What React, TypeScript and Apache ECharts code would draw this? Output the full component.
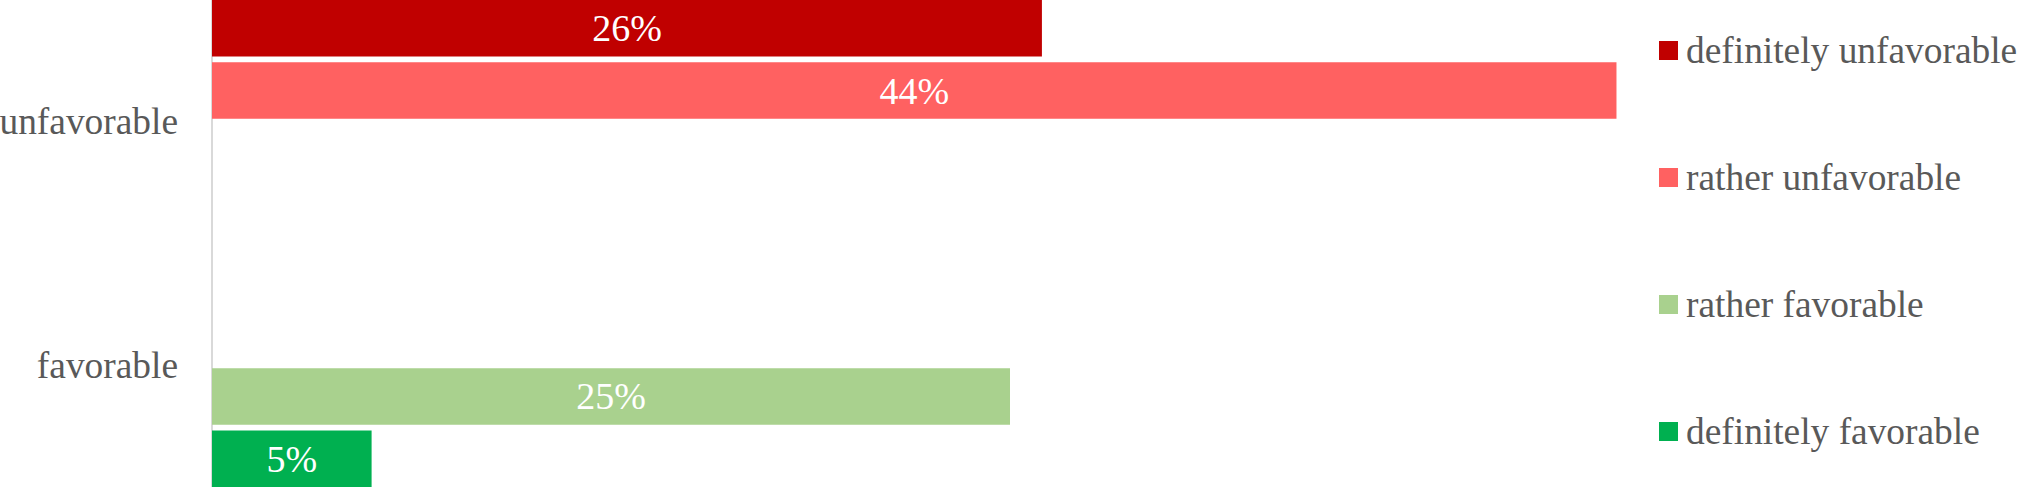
import React, { useEffect, useRef } from "react";
import * as echarts from "echarts";

const categories = ["unfavorable", "favorable"];
const seriesNames = [
  "definitely unfavorable",
  "rather unfavorable",
  "rather favorable",
  "definitely favorable",
];
const definitelyUnfavorable = [26, null];
const ratherUnfavorable = [44, null];
const ratherFavorable = [null, 25];
const definitelyFavorable = [null, 5];
const seriesValues = [
  definitelyUnfavorable,
  ratherUnfavorable,
  ratherFavorable,
  definitelyFavorable,
];
const seriesColors = ["#C00000", "#FF6161", "#A9D18E", "#00B050"];

const FONT = "'Liberation Serif', 'Times New Roman', serif";

export default function App() {
  const ref = useRef<HTMLDivElement>(null);

  useEffect(() => {
    document.body.style.margin = "0";
    if (!ref.current) return;
    const chart = echarts.init(ref.current, null, { renderer: "svg" });
    chart.setOption({
      animation: false,
      backgroundColor: "#ffffff",
      grid: {
        left: 212,
        top: 0,
        width: 1436.4,
        height: 487,
        containLabel: false,
        outerBoundsMode: "none",
      },
      xAxis: {
        type: "value",
        min: 0,
        max: 45,
        show: false,
      },
      yAxis: {
        type: "category",
        inverse: true,
        data: categories,
        offset: 1,
        axisLine: { show: true, lineStyle: { color: "#D9D9D9", width: 2 } },
        axisTick: { show: false },
        splitLine: { show: false },
        axisLabel: {
          fontSize: 37.4,
          color: "#595959",
          fontFamily: FONT,
          margin: 33,
        },
      },
      legend: {
        orient: "vertical",
        left: 1659,
        top: 32,
        padding: 0,
        itemWidth: 19,
        itemHeight: 19,
        itemGap: 90,
        icon: "rect",
        textStyle: {
          fontSize: 37.4,
          color: "#595959",
          fontFamily: FONT,
          padding: [0, 0, 0, 3],
        },
        data: seriesNames,
      },
      series: seriesNames.map((name, i) => ({
        name,
        type: "bar",
        data: seriesValues[i],
        barGap: "10.3%",
        barCategoryGap: "0%",
        itemStyle: { color: seriesColors[i] },
        label: {
          show: true,
          position: "inside",
          formatter: "{c}%",
          color: "#FFFFFF",
          fontSize: 38,
          fontFamily: FONT,
        },
      })),
    });
    return () => chart.dispose();
  }, []);

  return <div ref={ref} style={{ width: 2017, height: 487 }} />;
}
